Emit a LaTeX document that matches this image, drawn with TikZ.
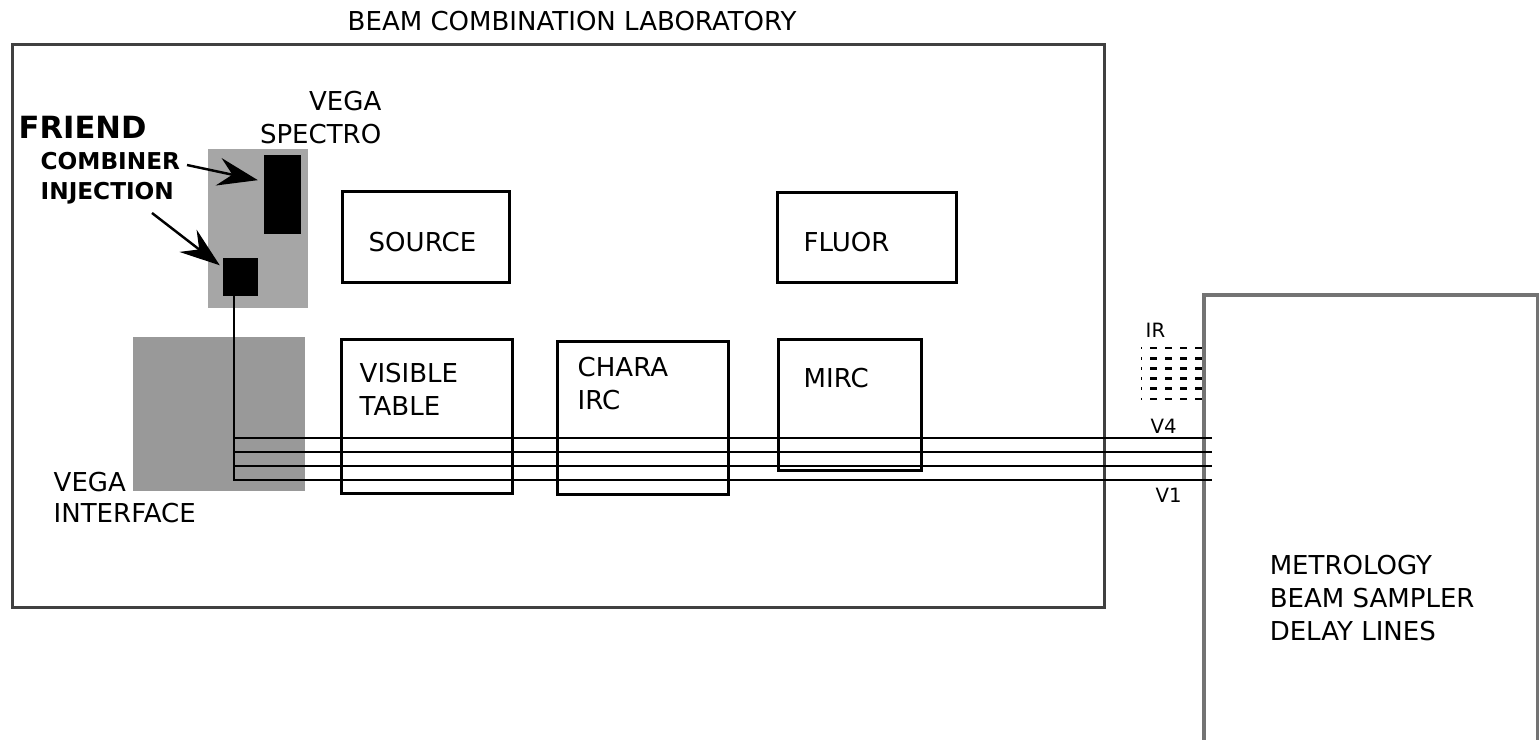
\documentclass[tikz,border=0pt]{standalone}
\usepackage{fontspec}
\setmainfont{DejaVu Sans}
\usepackage{xcolor}
\usepackage{tikz}
\usetikzlibrary{arrows.meta,positioning,calc}

\definecolor{panelgray}{HTML}{A6A6A6}
\definecolor{ifacegray}{HTML}{999999}

\begin{document}
\begin{tikzpicture}[
  x=0.01cm, y=-0.01cm,
  font=\fontsize{7.4}{9.4}\selectfont,
  hall/.style={draw=black!75,line width=0.85pt,inner sep=0pt,anchor=north west},
  unit/.style={draw=black,line width=0.95pt,inner sep=0pt,anchor=north west},
  blk/.style={fill=black,inner sep=0pt,anchor=north west},
  zone/.style={inner sep=0pt,anchor=north west},
  txt/.style={inner sep=0pt,anchor=north west,align=left},
  tiny/.style={inner sep=0pt,anchor=north west,font=\fontsize{5.6}{6}\selectfont},
  beam/.style={line width=0.75pt,line cap=rect},
  irbeam/.style={line width=0.75pt,dash pattern=on 0.07cm off 0.08cm,dash phase=0.06cm},
  pointer/.style={-{Stealth[length=4mm,width=2.8mm,inset=1.4mm]},line width=0.7pt}
]
\useasboundingbox (0,0) rectangle (1539,740);

% halls
\node[hall,minimum width=10.91cm,minimum height=5.63cm] (lab) at (11,43) {};
\node[hall,draw=black!55,line width=1.1pt,minimum width=3.34cm,minimum height=4.70cm] (metro) at (1202,293) {};
\node[txt] (title) at (347,10) {BEAM COMBINATION LABORATORY};
\node[txt,below right=2.61cm and 0.67cm of metro.north west] {METROLOGY\\BEAM SAMPLER\\DELAY LINES};

% vega / friend corner
\node[zone,fill=panelgray,minimum width=1.00cm,minimum height=1.59cm] (panel) at (207,148) {};
\node[zone,fill=ifacegray,minimum width=1.72cm,minimum height=1.54cm] (iface) at (132,336) {};
\node[blk,minimum width=0.37cm,minimum height=0.79cm] (spec) at (263,154) {};
\node[blk,minimum width=0.35cm,minimum height=0.38cm] (inj) at (222,257) {};

\node[txt,anchor=north east,align=right] (spectro) at (382,90) {VEGA\\SPECTRO};
\node[txt,font=\fontsize{8.7}{10}\selectfont\bfseries] (friend) at (18,115) {FRIEND};
\node[txt,font=\fontsize{6.6}{8.5}\selectfont\bfseries] (combiner) at (40,152) {COMBINER\\INJECTION};
\node[txt,font=\fontsize{7.4}{8.9}\selectfont] (vegaif) at (53,471) {VEGA\\INTERFACE};

\coordinate (c1) at (187,165);
\coordinate (c2) at (152,213);
\draw[pointer,shorten >=1.5pt] (c1) -- (spec.146);
\draw[pointer,shorten >=0.8pt] (c2) -- (inj.152);

% combiners
\node[unit,minimum width=1.67cm,minimum height=0.91cm] (source) at (341,190) {};
\node[unit,minimum width=1.79cm,minimum height=0.90cm] (fluor) at (776,191) {};
\node[unit,minimum width=1.71cm,minimum height=1.54cm] (vis) at (340,338) {};
\node[unit,minimum width=1.71cm,minimum height=1.53cm] (chara) at (556,340) {};
\node[unit,minimum width=1.43cm,minimum height=1.31cm] (mirc) at (777,338) {};

\node[txt,below right=0.41cm and 0.27cm of source.north west] {SOURCE};
\node[txt,below right=0.40cm and 0.27cm of fluor.north west] {FLUOR};
\node[txt,below right=0.24cm and 0.19cm of vis.north west] {VISIBLE\\TABLE};
\node[txt,below right=0.16cm and 0.21cm of chara.north west] {CHARA\\IRC};
\node[txt,below right=0.29cm and 0.26cm of mirc.north west] {MIRC};

% beams
\foreach \k/\yy in {1/480,2/466,3/452,4/438} {
  \coordinate (b\k) at (234,\yy);
  \coordinate (e\k) at (1211,\yy);
  \draw[beam] (b\k) -- (e\k);
}
\draw[beam] (inj.south -| b1) -- (b1);

\foreach \k in {0,...,5} {
  \coordinate (ir\k) at (1141,348+10.2*\k);
  \coordinate (irend\k) at (1207,348+10.2*\k);
  \draw[irbeam] (ir\k) -- (irend\k);
}

\node[tiny] (irlab) at (1145,322) {IR};
\node[tiny] (v4lab) at (1150,418) {V4};
\node[tiny] (v1lab) at (1155,487) {V1};
\end{tikzpicture}
\end{document}
